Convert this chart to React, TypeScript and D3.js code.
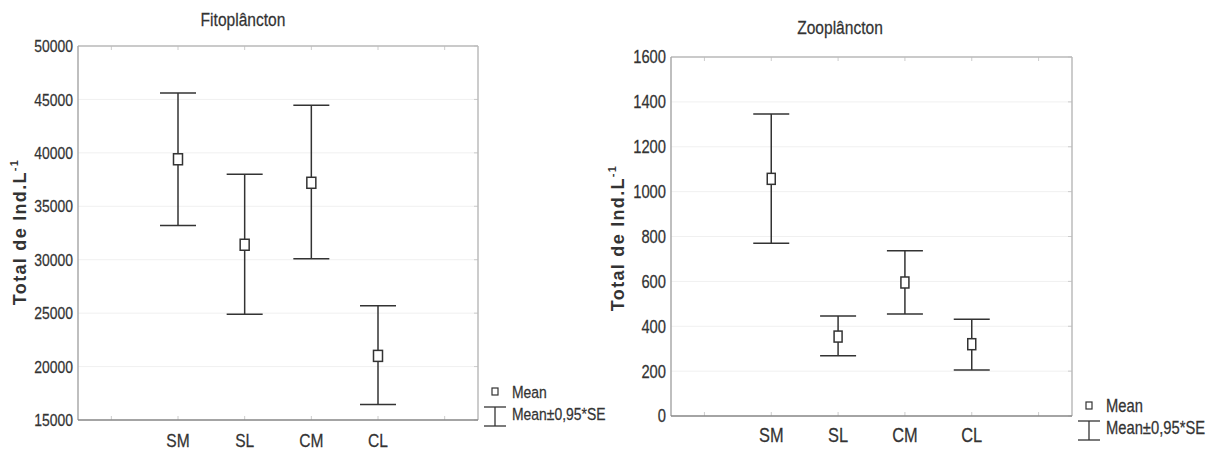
import * as d3 from "d3";

const categories = ["SM", "SL", "CM", "CL"];

const fitoMean = [39400, 31400, 37200, 21000];
const fitoUpper = [45600, 38000, 44450, 25700];
const fitoLower = [33200, 24900, 30100, 16450];
const fitoTicks = [15000, 20000, 25000, 30000, 35000, 40000, 45000, 50000];

const zooMean = [1057, 354, 595, 320];
const zooUpper = [1346, 446, 737, 431];
const zooLower = [770, 268, 455, 205];
const zooTicks = [0, 200, 400, 600, 800, 1000, 1200, 1400, 1600];

const sans = "'Liberation Sans', Arial, sans-serif";
const ink = "#333";

// Arial Narrow look-alike: regular sans squeezed horizontally
function NText({ x, y, size, anchor = "start", children, dy = "0" }) {
  return (
    <text transform={`translate(${x},${y}) scale(0.82,1)`} dy={dy} textAnchor={anchor}
      fontFamily={sans} fontSize={size} fill={ink} stroke={ink} strokeWidth={0.25}>{children}</text>
  );
}

function Panel({ title, means, uppers, lowers, ticks, left, right, top, bottom, titleX, titleY, yLabelX, yLabelY, catY, fontSize, legendX, legendY, legendSize, markW, markH }) {
  const x = d3.scaleLinear().domain([0, 6]).range([left, right]);
  const y = d3.scaleLinear().domain([ticks[0], ticks[ticks.length - 1]]).range([bottom, top]);
  const minor = d3.range(0.5, 6, 1);
  const cap = 18;

  return (
    <g>
      <NText x={titleX} y={titleY} size={19} anchor="middle">{title}</NText>

      {ticks.map(t => (
        <line key={"g" + t} x1={left} x2={right} y1={y(t)} y2={y(t)} stroke="#f0f0f0" strokeWidth={1} />
      ))}
      {ticks.map(t => (
        <line key={"r" + t} x1={right - 4} x2={right} y1={y(t)} y2={y(t)} stroke="#ccc" strokeWidth={1} />
      ))}
      {minor.map(m => (
        <g key={"m" + m}>
          <line x1={x(m)} x2={x(m)} y1={top} y2={top + 4} stroke="#ccc" strokeWidth={1} />
          <line x1={x(m)} x2={x(m)} y1={bottom} y2={bottom - 4} stroke="#ccc" strokeWidth={1} />
        </g>
      ))}

      <line x1={left} x2={right} y1={top} y2={top} stroke="#bbb" strokeWidth={1.5} />
      <line x1={right} x2={right} y1={top} y2={bottom} stroke="#bbb" strokeWidth={1.5} />
      <line x1={left} x2={left} y1={top} y2={bottom} stroke="#aaa" strokeWidth={1.5} />
      <line x1={left} x2={right} y1={bottom} y2={bottom} stroke="#888" strokeWidth={1.5} />

      {ticks.map(t => (
        <NText key={"t" + t} x={left - 5} y={y(t)} dy="0.36em" anchor="end" size={fontSize}>{t}</NText>
      ))}

      {categories.map((c, i) => (
        <NText key={c} x={x(i + 1.5)} y={catY} anchor="middle" size={fontSize + 2}>{c}</NText>
      ))}

      <text transform={`translate(${yLabelX},${yLabelY}) rotate(-90)`} textAnchor="middle" fontFamily={sans} fontWeight="bold" fontSize={18} letterSpacing={1.3} fill={ink}>
        Total de Ind.L<tspan fontSize={11} dy={-8}>-1</tspan>
      </text>

      {categories.map((c, i) => {
        const cx = x(i + 1.5);
        return (
          <g key={"e" + c} stroke={ink} strokeWidth={1.5}>
            <line x1={cx} x2={cx} y1={y(uppers[i])} y2={y(lowers[i])} />
            <line x1={cx - cap} x2={cx + cap} y1={y(uppers[i])} y2={y(uppers[i])} />
            <line x1={cx - cap} x2={cx + cap} y1={y(lowers[i])} y2={y(lowers[i])} />
            <rect x={cx - markW / 2} y={y(means[i]) - markH / 2} width={markW} height={markH} fill="#fff" />
          </g>
        );
      })}

      <g>
        <rect x={legendX - 3} y={legendY - 4} width={6} height={7} fill="#fff" stroke={ink} strokeWidth={1.2} />
        <NText x={legendX + 17} y={legendY} dy="0.36em" size={legendSize}>Mean</NText>
        <g stroke={ink} strokeWidth={1.3}>
          <line x1={legendX - 11} x2={legendX + 11} y1={legendY + 15} y2={legendY + 15} />
          <line x1={legendX - 11} x2={legendX + 11} y1={legendY + 34} y2={legendY + 34} />
          <line x1={legendX} x2={legendX} y1={legendY + 15} y2={legendY + 34} />
        </g>
        <NText x={legendX + 17} y={legendY + 22} dy="0.36em" size={legendSize}>Mean±0,95*SE</NText>
      </g>
    </g>
  );
}

export default function App() {
  return (
    <svg width={1222} height={450} style={{ position: "absolute", left: 0, top: 0, background: "#fff" }}>
      <Panel
        title="Fitoplâncton"
        means={fitoMean} uppers={fitoUpper} lowers={fitoLower} ticks={fitoTicks}
        left={78} right={478} top={46} bottom={420}
        titleX={243} titleY={26} yLabelX={26} yLabelY={232} catY={447}
        fontSize={17} legendX={495} legendY={392} legendSize={17} markW={9} markH={11}
      />
      <Panel
        title="Zooplâncton"
        means={zooMean} uppers={zooUpper} lowers={zooLower} ticks={zooTicks}
        left={671} right={1072} top={57} bottom={416}
        titleX={840} titleY={34} yLabelX={624} yLabelY={238} catY={442}
        fontSize={18} legendX={1089} legendY={406} legendSize={18} markW={8} markH={11}
      />
    </svg>
  );
}
